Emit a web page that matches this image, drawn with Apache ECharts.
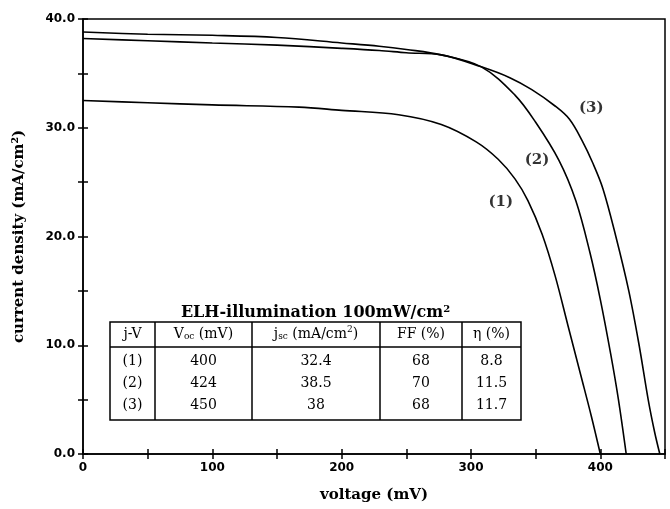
<!DOCTYPE html>
<html>
<head>
<meta charset="utf-8">
<script src="https://cdn.jsdelivr.net/npm/echarts@6/dist/echarts.min.js"></script>
<style>
  html, body { margin: 0; padding: 0; background: #fff; }
  #chart { width: 670px; height: 509px; }
</style>
</head>
<body>
<div id="chart"></div>
<script>
// j-V curves, voltage (mV) vs current density (mA/cm2)
var curve1 = [[0, 32.5], [50, 32.3], [100, 32.1], [167, 31.9], [200, 31.6], [244, 31.2], [277, 30.3],
  [304, 28.7], [321, 27.1], [334, 25.3], [344, 23.3], [355, 20.2], [365, 16.4], [375, 11.8],
  [385, 7.2], [393, 3.5], [400, 0]];
var curve2 = [[0, 38.8], [50, 38.6], [100, 38.5], [150, 38.3], [200, 37.8], [229, 37.5], [250, 37.2],
  [277, 36.7], [308, 35.6], [334, 33.0], [350, 30.5], [368, 27.0], [381, 23.3], [392, 18.5],
  [400, 14.2], [408, 9.2], [414, 5.0], [420, 0]];
var curve3 = [[0, 38.2], [50, 38.0], [100, 37.8], [150, 37.6], [200, 37.3], [229, 37.1], [250, 36.9],
  [277, 36.7], [308, 35.6], [330, 34.6], [347, 33.5], [365, 32.0], [376, 30.8], [386, 28.8], [394, 26.8],
  [402, 24.4], [412, 20.0], [422, 15.0], [430, 10.0], [437, 5.0], [442, 2.0], [446, 0]];
var curveNames = ['(1)', '(2)', '(3)'];
var labelPos = [[323, 23.2], [351, 27.0], [393, 31.8]];

// table (ELH-illumination 100mW/cm2)
var tableHead = ['j-V', '{t|V}{s|oc}{t| (mV)}', '{t|j}{s|sc}{t| (mA/cm}{p|2}{t|)}', 'FF (%)', 'η (%)'];
var tableJV = ['(1)', '(2)', '(3)'];
var tableVoc = ['400', '424', '450'];
var tableJsc = ['32.4', '38.5', '38'];
var tableFF = ['68', '70', '68'];
var tableEta = ['8.8', '11.5', '11.7'];

var chart = echarts.init(document.getElementById('chart'));

var serif = '"DejaVu Serif", "Liberation Serif", serif';
var tickFont = { fontFamily: 'DejaVu Sans', fontWeight: 'bold', fontSize: 12, color: '#000' };

// table geometry
var colX = [110, 155, 252, 380, 462, 521];
var rowY = [322, 347, 420];
var rowText = [334, 361, 383, 405];

var tableEls = [];
tableEls.push({ type: 'rect', shape: { x: colX[0], y: rowY[0], width: colX[5] - colX[0], height: rowY[2] - rowY[0] },
  style: { fill: '#fff', stroke: '#000', lineWidth: 1.5 } });
tableEls.push({ type: 'line', shape: { x1: colX[0], y1: rowY[1], x2: colX[5], y2: rowY[1] },
  style: { stroke: '#000', lineWidth: 1.5 } });
for (var c = 1; c < 5; c++) {
  tableEls.push({ type: 'line', shape: { x1: colX[c], y1: rowY[0], x2: colX[c], y2: rowY[2] },
    style: { stroke: '#000', lineWidth: 1.5 } });
}
tableEls.push({ type: 'text', x: (colX[0] + colX[5]) / 2, y: rowY[0] - 9,
  style: { text: 'ELH-illumination 100mW/cm{p|2}', align: 'center', verticalAlign: 'middle',
    font: 'bold 16px ' + serif, fill: '#000',
    rich: { p: { fontSize: 10, verticalAlign: 'top', fontWeight: 'bold', fontFamily: serif, padding: [0, 0, 8, 0] } } } });
var cols = [tableJV, tableVoc, tableJsc, tableFF, tableEta];
var richHead = {
  t: { fontSize: 14, fontFamily: serif, fill: '#000' },
  s: { fontSize: 9, fontFamily: serif, padding: [6, 0, 0, 0] },
  p: { fontSize: 9, fontFamily: serif, padding: [0, 0, 8, 0] }
};
for (var c = 0; c < 5; c++) {
  var cx = (colX[c] + colX[c + 1]) / 2;
  tableEls.push({ type: 'text', x: cx, y: rowText[0],
    style: { text: tableHead[c], align: 'center', verticalAlign: 'middle', font: '14px ' + serif, fill: '#000', rich: richHead } });
  for (var r = 0; r < 3; r++) {
    tableEls.push({ type: 'text', x: cx, y: rowText[r + 1],
      style: { text: cols[c][r], align: 'center', verticalAlign: 'middle', font: '14px ' + serif, fill: '#000' } });
  }
}

function lineSeries(data, idx) {
  return {
    type: 'line',
    name: curveNames[idx],
    data: data,
    showSymbol: false,
    smooth: 0.35,
    lineStyle: { color: '#000', width: 1.6 },
    z: 3
  };
}

// curve labels (1) (2) (3)
var labelSeries = {
  type: 'scatter',
  data: labelPos.map(function (p, i) { return { value: p, name: curveNames[i] }; }),
  symbolSize: 1,
  itemStyle: { color: 'rgba(0,0,0,0)' },
  label: { show: true, position: 'inside', formatter: '{b}', color: '#000',
    fontFamily: serif, fontWeight: 'bold', fontSize: 15 },
  silent: true,
  z: 4
};

var option = {
  animation: false,
  backgroundColor: '#fff',
  grid: { left: 83, right: 5, top: 19, bottom: 55, show: true, borderColor: '#000', borderWidth: 1.5 },
  xAxis: [{
    type: 'value', min: 0, max: 450, interval: 50,
    name: 'voltage (mV)', nameLocation: 'middle', nameGap: 34,
    nameTextStyle: { fontFamily: serif, fontWeight: 'bold', fontSize: 15, color: '#000' },
    axisLine: { lineStyle: { color: '#000', width: 1.5 } },
    axisTick: { length: 5, lineStyle: { color: '#000', width: 1.5 } },
    axisLabel: Object.assign({ margin: 8, formatter: function (v) { return v % 100 === 0 ? String(v) : ''; } }, tickFont),
    splitLine: { show: false }
  }, {
    type: 'value', min: 0, max: 450, interval: 50, position: 'bottom',
    axisLine: { show: false },
    axisTick: { inside: true, length: 5, lineStyle: { color: '#000', width: 1.5 } },
    axisLabel: { show: false }, splitLine: { show: false }
  }],
  yAxis: [{
    type: 'value', min: 0, max: 40, interval: 5,
    name: 'current density (mA/cm²)', nameLocation: 'middle', nameGap: 56,
    nameTextStyle: { fontFamily: serif, fontWeight: 'bold', fontSize: 15, color: '#000' },
    axisLine: { lineStyle: { color: '#000', width: 1.5 } },
    axisTick: { length: 5, lineStyle: { color: '#000', width: 1.5 } },
    axisLabel: Object.assign({ margin: 8, formatter: function (v) { return v % 10 === 0 ? v.toFixed(1) : ''; } }, tickFont),
    splitLine: { show: false }
  }, {
    type: 'value', min: 0, max: 40, interval: 5, position: 'left',
    axisLine: { show: false },
    axisTick: { inside: true, length: 5, lineStyle: { color: '#000', width: 1.5 } },
    axisLabel: { show: false }, splitLine: { show: false }
  }],
  series: [lineSeries(curve1, 0), lineSeries(curve2, 1), lineSeries(curve3, 2), labelSeries],
  graphic: [{ type: 'group', z: 10, children: tableEls }]
};

chart.setOption(option);
</script>
</body>
</html>
